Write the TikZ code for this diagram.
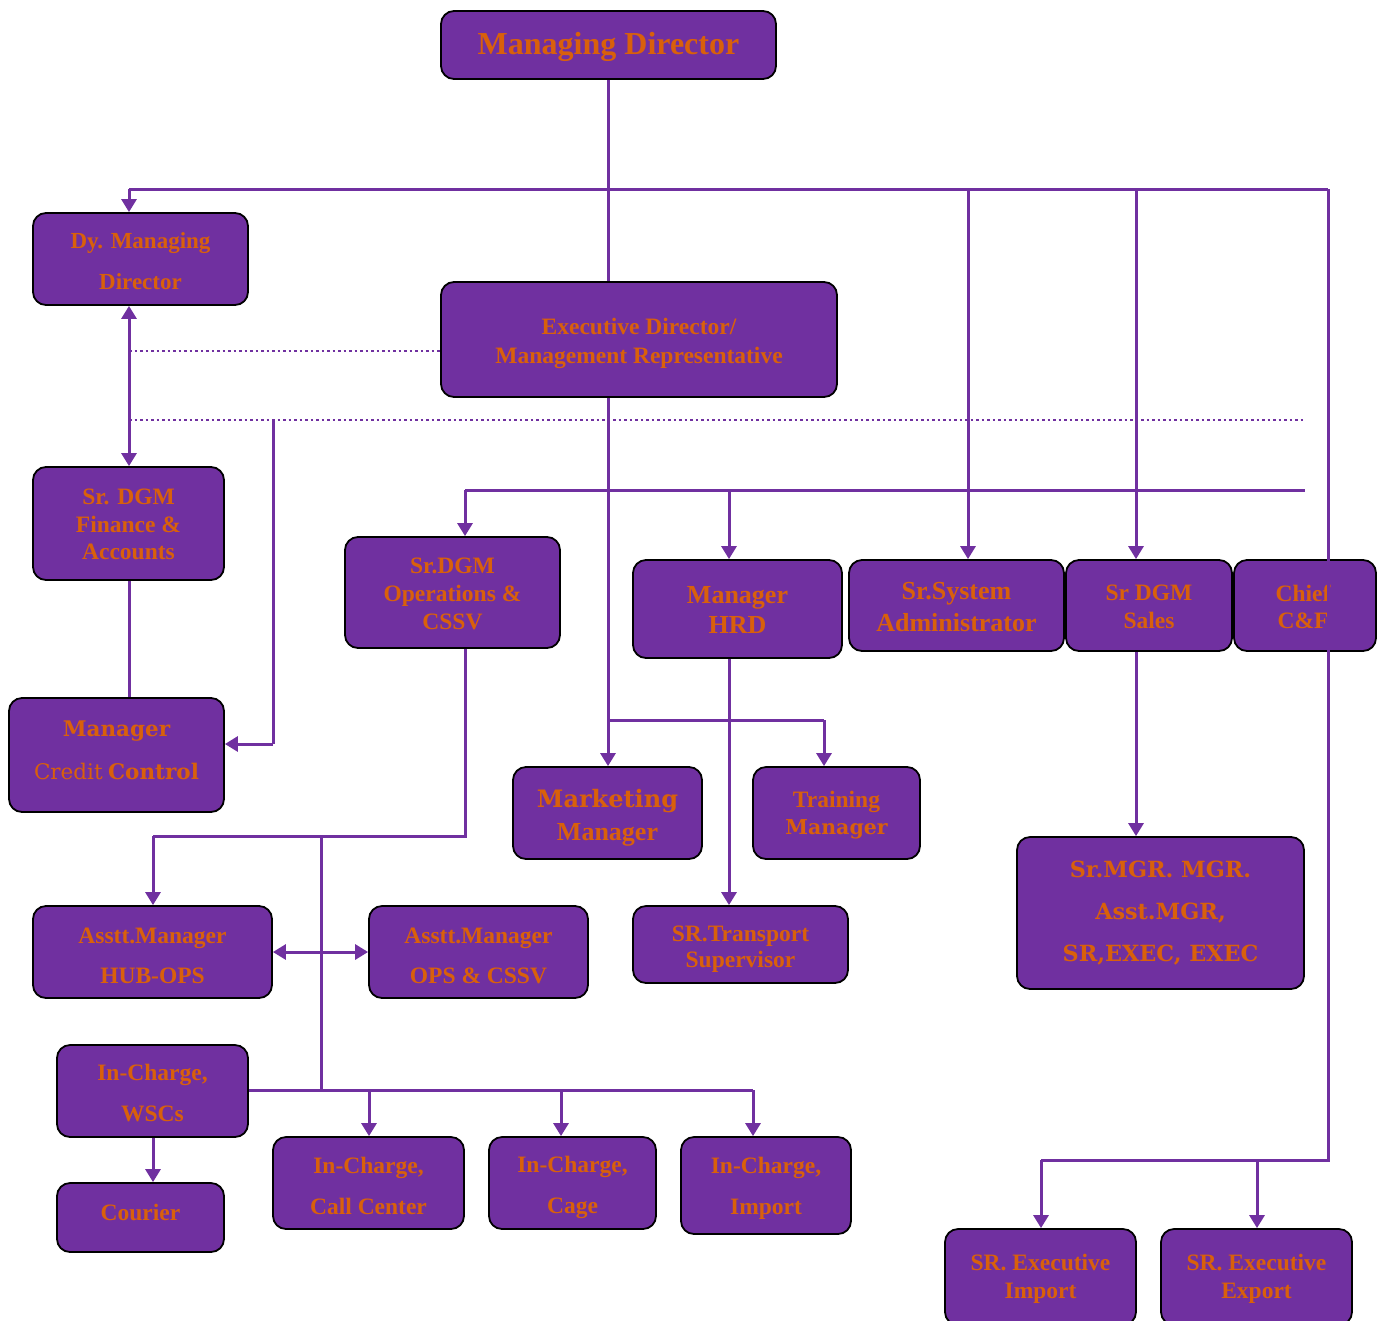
\documentclass[tikz,border=0pt]{standalone}
\usepackage{fontspec}
\setmainfont{Liberation Serif}
\newfontfamily\slab{DejaVu Serif}
\usetikzlibrary{arrows.meta}
\definecolor{boxp}{HTML}{7030A0}
\definecolor{txto}{HTML}{D9600B}
\definecolor{linep}{HTML}{7030A0}
\tikzset{
 box/.style={draw=black, line width=1.8pt, fill=boxp, rounded corners=13pt, text=txto, align=center, inner sep=0pt},
 ln/.style={draw=linep, line width=3pt},
 arr/.style={ln, -{Triangle[length=13pt,width=15pt]}},
 darr/.style={ln, {Triangle[length=13pt,width=15pt]}-{Triangle[length=13pt,width=15pt]}},
 dotl/.style={draw=linep, line width=2.5pt, dash pattern=on 2.5pt off 3pt},
}
\newcommand{\fs}[2]{\bfseries\fontsize{#1}{#2}\selectfont}
% shift text down by #1 (strut at start of first line)
\newcommand{\sd}[1]{\rule{0pt}{\dimexpr\fontcharht\font`H+#1*2\relax}}
% shift text up by #1 (strut at end of last line)
\newcommand{\su}[1]{\rule[-\dimexpr#1*2\relax]{0pt}{0pt}}
\begin{document}
\begin{tikzpicture}[x=1pt,y=-1pt]
\useasboundingbox (0,0) rectangle (1380,1320);
\clip (0,0) rectangle (1380,1320);
% boxes
\node[box, minimum width=335pt, minimum height=68pt, font=\fs{32}{36}] (md) at (608.5,45) {\sd{3pt}Managing Director};
\node[box, minimum width=215pt, minimum height=92pt, font=\fs{23}{41}] (dymd) at (140.5,259) {\sd{3pt}Dy. Managing\\Director};
\node[box, minimum width=396pt, minimum height=115pt, font=\fs{23.5}{29}] (exd) at (639,339.5) {\sd{4pt}Executive Director/\\Management Representative};
\node[box, minimum width=191pt, minimum height=113pt, font=\fs{23.5}{27.5}] (fin) at (128.5,523.5) {\sd{1pt}Sr. DGM\\Finance \&\\Accounts};
\node[box, minimum width=215pt, minimum height=114pt, font=\fs{21.5}{43}] (credit) at (116.5,755) {{\slab\bfseries Manager}\\{\slab\mdseries Credit} {\slab\bfseries Control}\su{5pt}};
\node[box, minimum width=215pt, minimum height=111pt, font=\fs{23.5}{28}] (ops) at (452.5,592.5) {\sd{1pt}Sr.DGM\\Operations \&\\CSSV};
\node[box, minimum width=209pt, minimum height=98pt, font=\fs{26}{30}] (hrd) at (737.5,609) {\sd{1.5pt}Manager\\HRD};
\node[box, minimum width=215pt, minimum height=91pt, font=\fs{26}{32}] (sys) at (956.5,605.5) {\sd{2pt}Sr.System\\Administrator};
\node[box, minimum width=166pt, minimum height=91pt, font=\fs{23.5}{28}] (sales) at (1149,605.5) {\sd{1pt}Sr DGM\\Sales};
\node[box, minimum width=142pt, minimum height=91pt] (chief) at (1305,605.5) {};
\node[text=txto, align=center, inner sep=0pt, font=\fs{23.5}{27}] (chieft) at (1303,606.5) {Chief\\C\&F};
\node[box, minimum width=189pt, minimum height=92pt, font=\fs{26}{33}] (mkt) at (607.5,813) {{\slab\fontsize{24}{33}\selectfont\bfseries\sd{5pt}Marketing}\\Manager};
\node[box, minimum width=167pt, minimum height=92pt, font=\fs{23.5}{27}] (trn) at (836.5,813) {\sd{3pt}Training\\{\slab\fontsize{20.5}{27}\selectfont\bfseries Manager}};
\node[box, minimum width=215pt, minimum height=77pt, font=\fs{23.5}{26}] (trans) at (740.5,944.5) {\sd{5pt}SR.Transport\\Supervisor};
\node[box, minimum width=287pt, minimum height=152pt, font={\slab\fs{22.3}{42}}] (mgrs) at (1160.5,913) {Sr.MGR. MGR.\\Asst.MGR,\\SR,EXEC, EXEC};
\node[box, minimum width=239pt, minimum height=92pt, font=\fs{23.5}{40}] (hub) at (152.5,952) {\sd{3.5pt}Asstt.Manager\\HUB-OPS};
\node[box, minimum width=219pt, minimum height=92pt, font=\fs{23.5}{40}] (opsc) at (478.5,952) {\sd{4pt}Asstt.Manager\\OPS \& CSSV};
\node[box, minimum width=191pt, minimum height=92pt, font=\fs{23.5}{41}] (wsc) at (152.5,1091) {\sd{2.5pt}In-Charge,\\WSCs};
\node[box, minimum width=167pt, minimum height=69pt, font=\fs{23.5}{28}] (courier) at (140.5,1217.5) {Courier\su{5pt}};
\node[box, minimum width=191pt, minimum height=92pt, font=\fs{23.5}{41}] (call) at (368.5,1183) {\sd{3pt}In-Charge,\\Call Center};
\node[box, minimum width=167pt, minimum height=92pt, font=\fs{23.5}{41}] (cage) at (572.5,1183) {\sd{5pt}In-Charge,\\Cage};
\node[box, minimum width=170pt, minimum height=97pt, font=\fs{23.5}{41}] (imp) at (766,1185.5) {\sd{3.5pt}In-Charge,\\Import};
\node[box, minimum width=191pt, minimum height=96pt, font=\fs{23.5}{28}] (srimp) at (1040.5,1277) {\sd{2pt}SR. Executive\\Import};
\node[box, minimum width=191pt, minimum height=96pt, font=\fs{23.5}{28}] (srexp) at (1256.5,1277) {\sd{2pt}SR. Executive\\Export};
% coordinates
\coordinate (h1L) at (129,189);
\coordinate (h1R) at (1328,189);
\coordinate (s1) at (968,189);
\coordinate (s2) at (1136,189);
\coordinate (c1) at (1328,1160);
\coordinate (c2) at (1041,1160);
\coordinate (c3) at (1257,1160);
\coordinate (d1) at (129,351);
\coordinate (d2) at (129,420);
\coordinate (d3) at (1305,420);
\coordinate (d4) at (273,420);
\coordinate (d5) at (273,744);
\coordinate (e1) at (608,720);
\coordinate (e2) at (824,720);
\coordinate (g1) at (465,490);
\coordinate (g2) at (1305,490);
\coordinate (g3) at (729,490);
\coordinate (o1) at (465,836);
\coordinate (o2) at (153,836);
\coordinate (o3) at (321,836);
\coordinate (o4) at (321,1090);
\coordinate (w1) at (753,1090);
\coordinate (w2) at (369,1090);
\coordinate (w3) at (561,1090);
% connectors
\draw[ln] (md.south) -- (md.south |- exd.north);
\draw[ln] (h1L) -- (h1R);
\draw[arr] (h1L) -- (h1L |- dymd.north);
\draw[arr] (s1) -- (s1 |- sys.north);
\draw[arr] (s2) -- (s2 |- sales.north);
\draw[ln] (h1R) -- (c1) -- (c2);
\draw[arr] (c2) -- (c2 |- srimp.north);
\draw[arr] (c3) -- (c3 |- srexp.north);
\draw[darr] (dymd.south -| h1L) -- (fin.north -| h1L);
\draw[dotl] (d1) -- (d1 -| exd.west);
\draw[dotl] (d2) -- (d3);
\draw[ln] (d4) -- (d5);
\draw[arr] (d5) -- (d5 -| credit.east);
\draw[ln] (fin.south -| h1L) -- (credit.north -| h1L);
\draw[arr] (exd.south -| e1) -- (e1 |- mkt.north);
\draw[ln] (e1) -- (e2);
\draw[arr] (e2) -- (e2 |- trn.north);
\draw[ln] (g1) -- (g2);
\draw[arr] (g1) -- (g1 |- ops.north);
\draw[arr] (g3) -- (g3 |- hrd.north);
\draw[arr] (hrd.south -| g3) -- (trans.north -| g3);
\draw[ln] (ops.south -| o1) -- (o1) -- (o2);
\draw[arr] (o2) -- (o2 |- hub.north);
\draw[ln] (o3) -- (o4);
\draw[darr] (hub.east) -- (opsc.west);
\draw[ln] (o4 -| wsc.east) -- (w1);
\draw[arr] (w2) -- (w2 |- call.north);
\draw[arr] (w3) -- (w3 |- cage.north);
\draw[arr] (w1) -- (w1 |- imp.north);
\draw[arr] (wsc.south -| o2) -- (courier.north -| o2);
\draw[arr] (sales.south -| s2) -- (mgrs.north -| s2);
\end{tikzpicture}
\end{document}
